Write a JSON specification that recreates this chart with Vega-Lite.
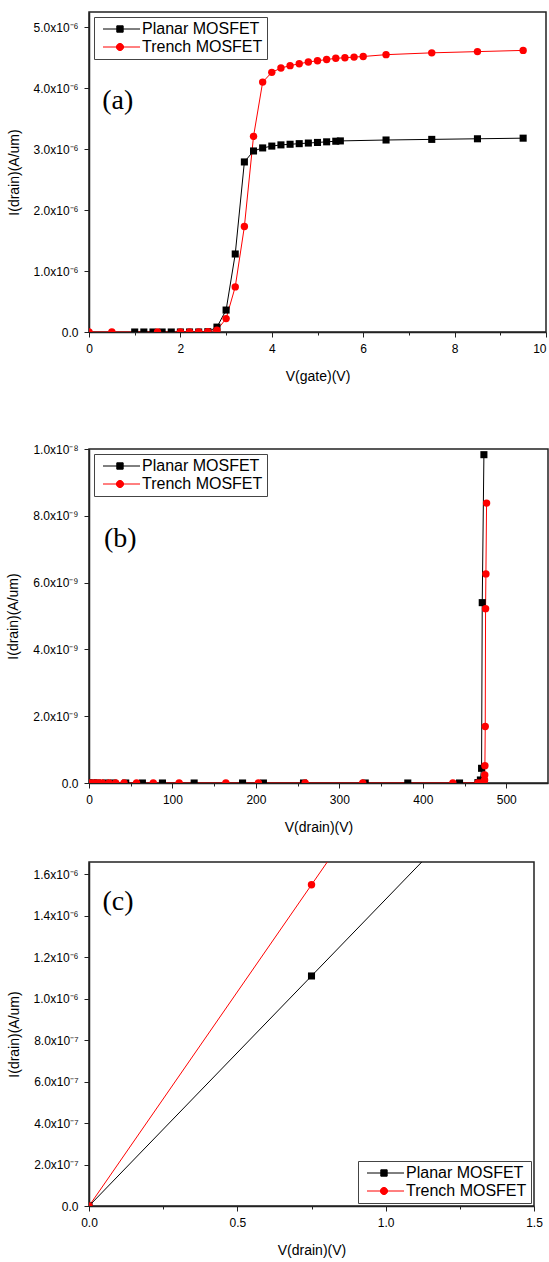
{
  "$schema": "https://vega.github.io/schema/vega-lite/v6.json",
  "padding": {"left": 6, "top": 11, "right": 0, "bottom": 0},
  "background": "white",
  "config": {
    "font": "Liberation Sans",
    "view": {"stroke": "#222222", "strokeWidth": 1.5},
    "axis": {
      "grid": false,
      "domainColor": "#222222",
      "domainWidth": 1.5,
      "tickColor": "#222222",
      "tickWidth": 1,
      "labelFont": "Liberation Sans",
      "labelFontSize": 12,
      "labelColor": "black",
      "labelPadding": 6,
      "titleFont": "Liberation Sans",
      "titleFontSize": 14,
      "titleFontWeight": "normal",
      "titleColor": "black",
      "titlePadding": 12,
      "labelFlush": false,
      "labelOverlap": false
    },
    "axisX": {"titlePadding": 15},
    "legend": {
      "title": null,
      "padding": 4,
      "strokeColor": "#444444",
      "fillColor": "white",
      "labelFont": "Liberation Sans",
      "labelFontSize": 16,
      "labelColor": "black",
      "symbolSize": 144,
      "symbolOffset": 3,
      "symbolOpacity": 1,
      "symbolStrokeWidth": 1,
      "labelOffset": 25,
      "rowPadding": 2,
      "offset": 5
    }
  },
  "datasets": {
    "a": [
      {"series": "Planar MOSFET", "x": 1.0, "y": 0},
      {"series": "Planar MOSFET", "x": 1.2, "y": 0},
      {"series": "Planar MOSFET", "x": 1.4, "y": 0},
      {"series": "Planar MOSFET", "x": 1.6, "y": 0},
      {"series": "Planar MOSFET", "x": 1.8, "y": 0},
      {"series": "Planar MOSFET", "x": 2.0, "y": 0},
      {"series": "Planar MOSFET", "x": 2.2, "y": 0},
      {"series": "Planar MOSFET", "x": 2.4, "y": 0},
      {"series": "Planar MOSFET", "x": 2.6, "y": 0.005e-6},
      {"series": "Planar MOSFET", "x": 2.8, "y": 0.08e-6},
      {"series": "Planar MOSFET", "x": 3.0, "y": 0.36e-6},
      {"series": "Planar MOSFET", "x": 3.2, "y": 1.28e-6},
      {"series": "Planar MOSFET", "x": 3.4, "y": 2.79e-6},
      {"series": "Planar MOSFET", "x": 3.6, "y": 2.97e-6},
      {"series": "Planar MOSFET", "x": 3.8, "y": 3.02e-6},
      {"series": "Planar MOSFET", "x": 4.0, "y": 3.05e-6},
      {"series": "Planar MOSFET", "x": 4.2, "y": 3.07e-6},
      {"series": "Planar MOSFET", "x": 4.4, "y": 3.08e-6},
      {"series": "Planar MOSFET", "x": 4.6, "y": 3.09e-6},
      {"series": "Planar MOSFET", "x": 4.8, "y": 3.10e-6},
      {"series": "Planar MOSFET", "x": 5.0, "y": 3.11e-6},
      {"series": "Planar MOSFET", "x": 5.2, "y": 3.12e-6},
      {"series": "Planar MOSFET", "x": 5.4, "y": 3.13e-6},
      {"series": "Planar MOSFET", "x": 5.5, "y": 3.135e-6},
      {"series": "Planar MOSFET", "x": 6.5, "y": 3.15e-6},
      {"series": "Planar MOSFET", "x": 7.5, "y": 3.16e-6},
      {"series": "Planar MOSFET", "x": 8.5, "y": 3.17e-6},
      {"series": "Planar MOSFET", "x": 9.5, "y": 3.18e-6},
      {"series": "Trench MOSFET", "x": 0.0, "y": 0},
      {"series": "Trench MOSFET", "x": 0.5, "y": 0},
      {"series": "Trench MOSFET", "x": 1.5, "y": 0},
      {"series": "Trench MOSFET", "x": 2.0, "y": 0},
      {"series": "Trench MOSFET", "x": 2.2, "y": 0},
      {"series": "Trench MOSFET", "x": 2.4, "y": 0},
      {"series": "Trench MOSFET", "x": 2.6, "y": 0.005e-6},
      {"series": "Trench MOSFET", "x": 2.8, "y": 0.03e-6},
      {"series": "Trench MOSFET", "x": 3.0, "y": 0.22e-6},
      {"series": "Trench MOSFET", "x": 3.2, "y": 0.74e-6},
      {"series": "Trench MOSFET", "x": 3.4, "y": 1.73e-6},
      {"series": "Trench MOSFET", "x": 3.6, "y": 3.21e-6},
      {"series": "Trench MOSFET", "x": 3.8, "y": 4.10e-6},
      {"series": "Trench MOSFET", "x": 4.0, "y": 4.26e-6},
      {"series": "Trench MOSFET", "x": 4.2, "y": 4.33e-6},
      {"series": "Trench MOSFET", "x": 4.4, "y": 4.37e-6},
      {"series": "Trench MOSFET", "x": 4.6, "y": 4.40e-6},
      {"series": "Trench MOSFET", "x": 4.8, "y": 4.43e-6},
      {"series": "Trench MOSFET", "x": 5.0, "y": 4.45e-6},
      {"series": "Trench MOSFET", "x": 5.2, "y": 4.47e-6},
      {"series": "Trench MOSFET", "x": 5.4, "y": 4.49e-6},
      {"series": "Trench MOSFET", "x": 5.6, "y": 4.50e-6},
      {"series": "Trench MOSFET", "x": 5.8, "y": 4.51e-6},
      {"series": "Trench MOSFET", "x": 6.0, "y": 4.52e-6},
      {"series": "Trench MOSFET", "x": 6.5, "y": 4.55e-6},
      {"series": "Trench MOSFET", "x": 7.5, "y": 4.58e-6},
      {"series": "Trench MOSFET", "x": 8.5, "y": 4.60e-6},
      {"series": "Trench MOSFET", "x": 9.5, "y": 4.62e-6}
    ],
    "b": [
      {"series": "Planar MOSFET", "x": 0, "y": 0},
      {"series": "Planar MOSFET", "x": 5, "y": 0},
      {"series": "Planar MOSFET", "x": 10, "y": 0},
      {"series": "Planar MOSFET", "x": 20, "y": 0},
      {"series": "Planar MOSFET", "x": 29, "y": 0},
      {"series": "Planar MOSFET", "x": 44, "y": 0},
      {"series": "Planar MOSFET", "x": 64, "y": 0},
      {"series": "Planar MOSFET", "x": 88, "y": 0},
      {"series": "Planar MOSFET", "x": 126, "y": 0},
      {"series": "Planar MOSFET", "x": 184, "y": 0},
      {"series": "Planar MOSFET", "x": 209, "y": 0},
      {"series": "Planar MOSFET", "x": 257, "y": 0},
      {"series": "Planar MOSFET", "x": 331, "y": 0},
      {"series": "Planar MOSFET", "x": 382, "y": 0},
      {"series": "Planar MOSFET", "x": 444, "y": 0},
      {"series": "Planar MOSFET", "x": 466, "y": 0.01e-9},
      {"series": "Planar MOSFET", "x": 469, "y": 0.09e-9},
      {"series": "Planar MOSFET", "x": 470.4, "y": 0.44e-9},
      {"series": "Planar MOSFET", "x": 471.2, "y": 5.40e-9},
      {"series": "Planar MOSFET", "x": 473.2, "y": 9.83e-9},
      {"series": "Trench MOSFET", "x": 0, "y": 0},
      {"series": "Trench MOSFET", "x": 4, "y": 0},
      {"series": "Trench MOSFET", "x": 8, "y": 0},
      {"series": "Trench MOSFET", "x": 12, "y": 0},
      {"series": "Trench MOSFET", "x": 16, "y": 0},
      {"series": "Trench MOSFET", "x": 24, "y": 0},
      {"series": "Trench MOSFET", "x": 32, "y": 0},
      {"series": "Trench MOSFET", "x": 42, "y": 0},
      {"series": "Trench MOSFET", "x": 57, "y": 0},
      {"series": "Trench MOSFET", "x": 77, "y": 0},
      {"series": "Trench MOSFET", "x": 108, "y": 0},
      {"series": "Trench MOSFET", "x": 164, "y": 0},
      {"series": "Trench MOSFET", "x": 203, "y": 0},
      {"series": "Trench MOSFET", "x": 259, "y": 0},
      {"series": "Trench MOSFET", "x": 328, "y": 0},
      {"series": "Trench MOSFET", "x": 436, "y": 0},
      {"series": "Trench MOSFET", "x": 466, "y": 0},
      {"series": "Trench MOSFET", "x": 470, "y": 0.005e-9},
      {"series": "Trench MOSFET", "x": 473, "y": 0.02e-9},
      {"series": "Trench MOSFET", "x": 474.0, "y": 0.09e-9},
      {"series": "Trench MOSFET", "x": 474.2, "y": 0.24e-9},
      {"series": "Trench MOSFET", "x": 474.4, "y": 0.52e-9},
      {"series": "Trench MOSFET", "x": 474.8, "y": 1.69e-9},
      {"series": "Trench MOSFET", "x": 475.2, "y": 5.22e-9},
      {"series": "Trench MOSFET", "x": 475.6, "y": 6.26e-9},
      {"series": "Trench MOSFET", "x": 476.4, "y": 8.38e-9}
    ],
    "c": [
      {"series": "Planar MOSFET", "x": 0, "y": 0},
      {"series": "Planar MOSFET", "x": 0.75, "y": 1.11e-6},
      {"series": "Planar MOSFET", "x": 1.5, "y": 2.22e-6},
      {"series": "Trench MOSFET", "x": 0, "y": 0},
      {"series": "Trench MOSFET", "x": 0.75, "y": 1.55e-6},
      {"series": "Trench MOSFET", "x": 1.5, "y": 3.10e-6}
    ],
    "la": [{"x": 0.63, "y": 3.79e-6, "label": "(a)"}],
    "lb": [{"x": 37.5, "y": 7.3e-9, "label": "(b)"}],
    "lc": [{"x": 0.098, "y": 1.465e-6, "label": "(c)"}]
  },
  "spacing": 58,
  "resolve": {"scale": {"shape": "independent", "fill": "independent", "stroke": "independent"}},
  "vconcat": [
    {
      "width": 457,
      "height": 320,
      "data": {"name": "a"},
      "layer": [
        {
          "transform": [{"filter": "datum.series == 'Planar MOSFET'"}],
          "mark": {"type": "line", "strokeWidth": 1, "clip": true, "color": "#000000"},
          "encoding": {
            "x": {"field": "x", "type": "quantitative", "scale": {"domain": [0, 10], "nice": false, "zero": false},
              "axis": {"title": "V(gate)(V)", "values": [0,1,2,3,4,5,6,7,8,9,10],
                "labelAlign": {"condition": {"test": "datum.value == 10", "value": "right"}, "value": "center"},
                "labelExpr": "datum.value % 2 == 0 ? format(datum.value, 'd') : ''",
                "tickSize": {"condition": {"test": "datum.value % 2 == 1", "value": 3}, "value": 5}}},
            "y": {"field": "y", "type": "quantitative", "scale": {"domain": [0, 5.25e-6], "nice": false, "zero": false},
              "axis": {"title": "I(drain)(A/um)", "values": [0,0.5e-6,1e-6,1.5e-6,2e-6,2.5e-6,3e-6,3.5e-6,4e-6,4.5e-6,5e-6],
                "labelExpr": "datum.value == 0 ? '0.0' : (round(datum.value*2e6) % 2 == 1 ? '' : format(datum.value*1e6, '.1f') + 'x10⁻⁶')",
                "tickSize": {"condition": {"test": "round(datum.value*2e6) % 2 == 1", "value": 3}, "value": 5}}}
          }
        },
        {
          "transform": [{"filter": "datum.series == 'Trench MOSFET'"}],
          "mark": {"type": "line", "strokeWidth": 1, "clip": true, "color": "#ff0000"},
          "encoding": {"x": {"field": "x", "type": "quantitative"}, "y": {"field": "y", "type": "quantitative"}}
        },
        {
          "transform": [{"filter": "datum.series == 'Planar MOSFET'"}],
          "mark": {"type": "point", "shape": "square", "filled": true, "opacity": 1, "size": 50, "clip": true, "color": "#000000"},
          "encoding": {"x": {"field": "x", "type": "quantitative"}, "y": {"field": "y", "type": "quantitative"}}
        },
        {
          "transform": [{"filter": "datum.series == 'Trench MOSFET'"}],
          "mark": {"type": "point", "shape": "circle", "filled": true, "opacity": 1, "size": 55, "clip": true, "color": "#ff0000"},
          "encoding": {"x": {"field": "x", "type": "quantitative"}, "y": {"field": "y", "type": "quantitative"}}
        },
        {
          "mark": {"type": "point", "filled": true, "opacity": 0, "size": 4, "clip": true},
          "encoding": {
            "x": {"field": "x", "type": "quantitative"},
            "y": {"field": "y", "type": "quantitative"},
            "shape": {"field": "series", "type": "nominal", "scale": {"domain": ["Planar MOSFET", "Trench MOSFET"], "range": ["M-1,0H5.17M1.3,-0.53H2.36V0.53H1.3Z", "M-1,0H5.17M1.23,0A0.6,0.6,0,1,1,2.43,0A0.6,0.6,0,1,1,1.23,0Z"]}, "legend": {"orient": "top-left"}},
            "fill": {"field": "series", "type": "nominal", "scale": {"domain": ["Planar MOSFET", "Trench MOSFET"], "range": ["#000000", "#ff0000"]}, "legend": {"orient": "top-left"}},
            "stroke": {"field": "series", "type": "nominal", "scale": {"domain": ["Planar MOSFET", "Trench MOSFET"], "range": ["#000000", "#ff0000"]}, "legend": {"orient": "top-left"}}
          }
        },
        {
          "data": {"name": "la"},
          "mark": {"type": "text", "font": "Liberation Serif", "fontSize": 28, "align": "center", "baseline": "middle", "color": "black"},
          "encoding": {
            "x": {"field": "x", "type": "quantitative"},
            "y": {"field": "y", "type": "quantitative"},
            "text": {"field": "label"}
          }
        }
      ]
    },
    {
      "spacing": 26,
      "resolve": {"scale": {"shape": "independent", "fill": "independent", "stroke": "independent"}},
      "vconcat": [
        {
          "width": 459,
          "height": 334,
          "data": {"name": "b"},
          "layer": [
            {
              "transform": [{"filter": "datum.series == 'Planar MOSFET'"}],
              "mark": {"type": "line", "strokeWidth": 1, "clip": true, "color": "#000000"},
              "encoding": {
                "x": {"field": "x", "type": "quantitative", "scale": {"domain": [0, 550], "nice": false, "zero": false},
                  "axis": {"title": "V(drain)(V)", "values": [0,50,100,150,200,250,300,350,400,450,500],
                    "labelExpr": "datum.value % 100 == 0 ? format(datum.value, 'd') : ''",
                    "tickSize": {"condition": {"test": "datum.value % 100 == 50", "value": 3}, "value": 5}}},
                "y": {"field": "y", "type": "quantitative", "scale": {"domain": [0, 1e-8], "nice": false, "zero": false},
                  "axis": {"title": "I(drain)(A/um)", "values": [0,1e-9,2e-9,3e-9,4e-9,5e-9,6e-9,7e-9,8e-9,9e-9,1e-8],
                    "labelExpr": "datum.value == 0 ? '0.0' : (round(datum.value*1e9) % 2 == 1 ? '' : (datum.value > 9.9e-9 ? '1.0x10⁻⁸' : format(datum.value*1e9, '.1f') + 'x10⁻⁹'))",
                    "tickSize": {"condition": {"test": "round(datum.value*1e9) % 2 == 1", "value": 3}, "value": 5}}}
              }
            },
            {
              "transform": [{"filter": "datum.series == 'Trench MOSFET'"}],
              "mark": {"type": "line", "strokeWidth": 1, "clip": true, "color": "#ff0000"},
              "encoding": {"x": {"field": "x", "type": "quantitative"}, "y": {"field": "y", "type": "quantitative"}}
            },
            {
              "transform": [{"filter": "datum.series == 'Planar MOSFET'"}],
              "mark": {"type": "point", "shape": "square", "filled": true, "opacity": 1, "size": 50, "clip": true, "color": "#000000"},
              "encoding": {"x": {"field": "x", "type": "quantitative"}, "y": {"field": "y", "type": "quantitative"}}
            },
            {
              "transform": [{"filter": "datum.series == 'Trench MOSFET'"}],
              "mark": {"type": "point", "shape": "circle", "filled": true, "opacity": 1, "size": 55, "clip": true, "color": "#ff0000"},
              "encoding": {"x": {"field": "x", "type": "quantitative"}, "y": {"field": "y", "type": "quantitative"}}
            },
            {
              "mark": {"type": "point", "filled": true, "opacity": 0, "size": 4, "clip": true},
              "encoding": {
                "x": {"field": "x", "type": "quantitative"},
                "y": {"field": "y", "type": "quantitative"},
                "shape": {"field": "series", "type": "nominal", "scale": {"domain": ["Planar MOSFET", "Trench MOSFET"], "range": ["M-1,0H5.17M1.3,-0.53H2.36V0.53H1.3Z", "M-1,0H5.17M1.23,0A0.6,0.6,0,1,1,2.43,0A0.6,0.6,0,1,1,1.23,0Z"]}, "legend": {"orient": "top-left"}},
                "fill": {"field": "series", "type": "nominal", "scale": {"domain": ["Planar MOSFET", "Trench MOSFET"], "range": ["#000000", "#ff0000"]}, "legend": {"orient": "top-left"}},
                "stroke": {"field": "series", "type": "nominal", "scale": {"domain": ["Planar MOSFET", "Trench MOSFET"], "range": ["#000000", "#ff0000"]}, "legend": {"orient": "top-left"}}
              }
            },
            {
              "data": {"name": "lb"},
              "mark": {"type": "text", "font": "Liberation Serif", "fontSize": 28, "align": "center", "baseline": "middle", "color": "black"},
              "encoding": {
                "x": {"field": "x", "type": "quantitative"},
                "y": {"field": "y", "type": "quantitative"},
                "text": {"field": "label"}
              }
            }
          ]
        },
        {
          "width": 445,
          "height": 344,
          "data": {"name": "c"},
          "layer": [
            {
              "transform": [{"filter": "datum.series == 'Planar MOSFET'"}],
              "mark": {"type": "line", "strokeWidth": 1, "clip": true, "color": "#000000"},
              "encoding": {
                "x": {"field": "x", "type": "quantitative", "scale": {"domain": [0, 1.5], "nice": false, "zero": false},
                  "axis": {"title": "V(drain)(V)", "values": [0,0.25,0.5,0.75,1,1.25,1.5],
                    "labelExpr": "round(datum.value*4) % 2 == 0 ? format(datum.value, '.1f') : ''",
                    "tickSize": {"condition": {"test": "round(datum.value*4) % 2 == 1", "value": 3}, "value": 5}}},
                "y": {"field": "y", "type": "quantitative", "scale": {"domain": [0, 1.66e-6], "nice": false, "zero": false},
                  "axis": {"title": "I(drain)(A/um)", "values": [0,1e-7,2e-7,3e-7,4e-7,5e-7,6e-7,7e-7,8e-7,9e-7,1e-6,1.1e-6,1.2e-6,1.3e-6,1.4e-6,1.5e-6,1.6e-6],
                    "labelExpr": "datum.value == 0 ? '0.0' : (round(datum.value*1e7) % 2 == 1 ? '' : (datum.value < 0.99e-6 ? format(datum.value*1e7, '.1f') + 'x10⁻⁷' : format(datum.value*1e6, '.1f') + 'x10⁻⁶'))",
                    "tickSize": {"condition": {"test": "round(datum.value*1e7) % 2 == 1", "value": 3}, "value": 5}}}
              }
            },
            {
              "transform": [{"filter": "datum.series == 'Trench MOSFET'"}],
              "mark": {"type": "line", "strokeWidth": 1, "clip": true, "color": "#ff0000"},
              "encoding": {"x": {"field": "x", "type": "quantitative"}, "y": {"field": "y", "type": "quantitative"}}
            },
            {
              "transform": [{"filter": "datum.series == 'Planar MOSFET'"}],
              "mark": {"type": "point", "shape": "square", "filled": true, "opacity": 1, "size": 50, "clip": true, "color": "#000000"},
              "encoding": {"x": {"field": "x", "type": "quantitative"}, "y": {"field": "y", "type": "quantitative"}}
            },
            {
              "transform": [{"filter": "datum.series == 'Trench MOSFET'"}],
              "mark": {"type": "point", "shape": "circle", "filled": true, "opacity": 1, "size": 55, "clip": true, "color": "#ff0000"},
              "encoding": {"x": {"field": "x", "type": "quantitative"}, "y": {"field": "y", "type": "quantitative"}}
            },
            {
              "mark": {"type": "point", "filled": true, "opacity": 0, "size": 4, "clip": true},
              "encoding": {
                "x": {"field": "x", "type": "quantitative"},
                "y": {"field": "y", "type": "quantitative"},
                "shape": {"field": "series", "type": "nominal", "scale": {"domain": ["Planar MOSFET", "Trench MOSFET"], "range": ["M-1,0H5.17M1.3,-0.53H2.36V0.53H1.3Z", "M-1,0H5.17M1.23,0A0.6,0.6,0,1,1,2.43,0A0.6,0.6,0,1,1,1.23,0Z"]}, "legend": {"orient": "bottom-right", "offset": 3}},
                "fill": {"field": "series", "type": "nominal", "scale": {"domain": ["Planar MOSFET", "Trench MOSFET"], "range": ["#000000", "#ff0000"]}, "legend": {"orient": "bottom-right", "offset": 3}},
                "stroke": {"field": "series", "type": "nominal", "scale": {"domain": ["Planar MOSFET", "Trench MOSFET"], "range": ["#000000", "#ff0000"]}, "legend": {"orient": "bottom-right", "offset": 3}}
              }
            },
            {
              "data": {"name": "lc"},
              "mark": {"type": "text", "font": "Liberation Serif", "fontSize": 28, "align": "center", "baseline": "middle", "color": "black"},
              "encoding": {
                "x": {"field": "x", "type": "quantitative"},
                "y": {"field": "y", "type": "quantitative"},
                "text": {"field": "label"}
              }
            }
          ]
        }
      ]
    }
  ]
}
